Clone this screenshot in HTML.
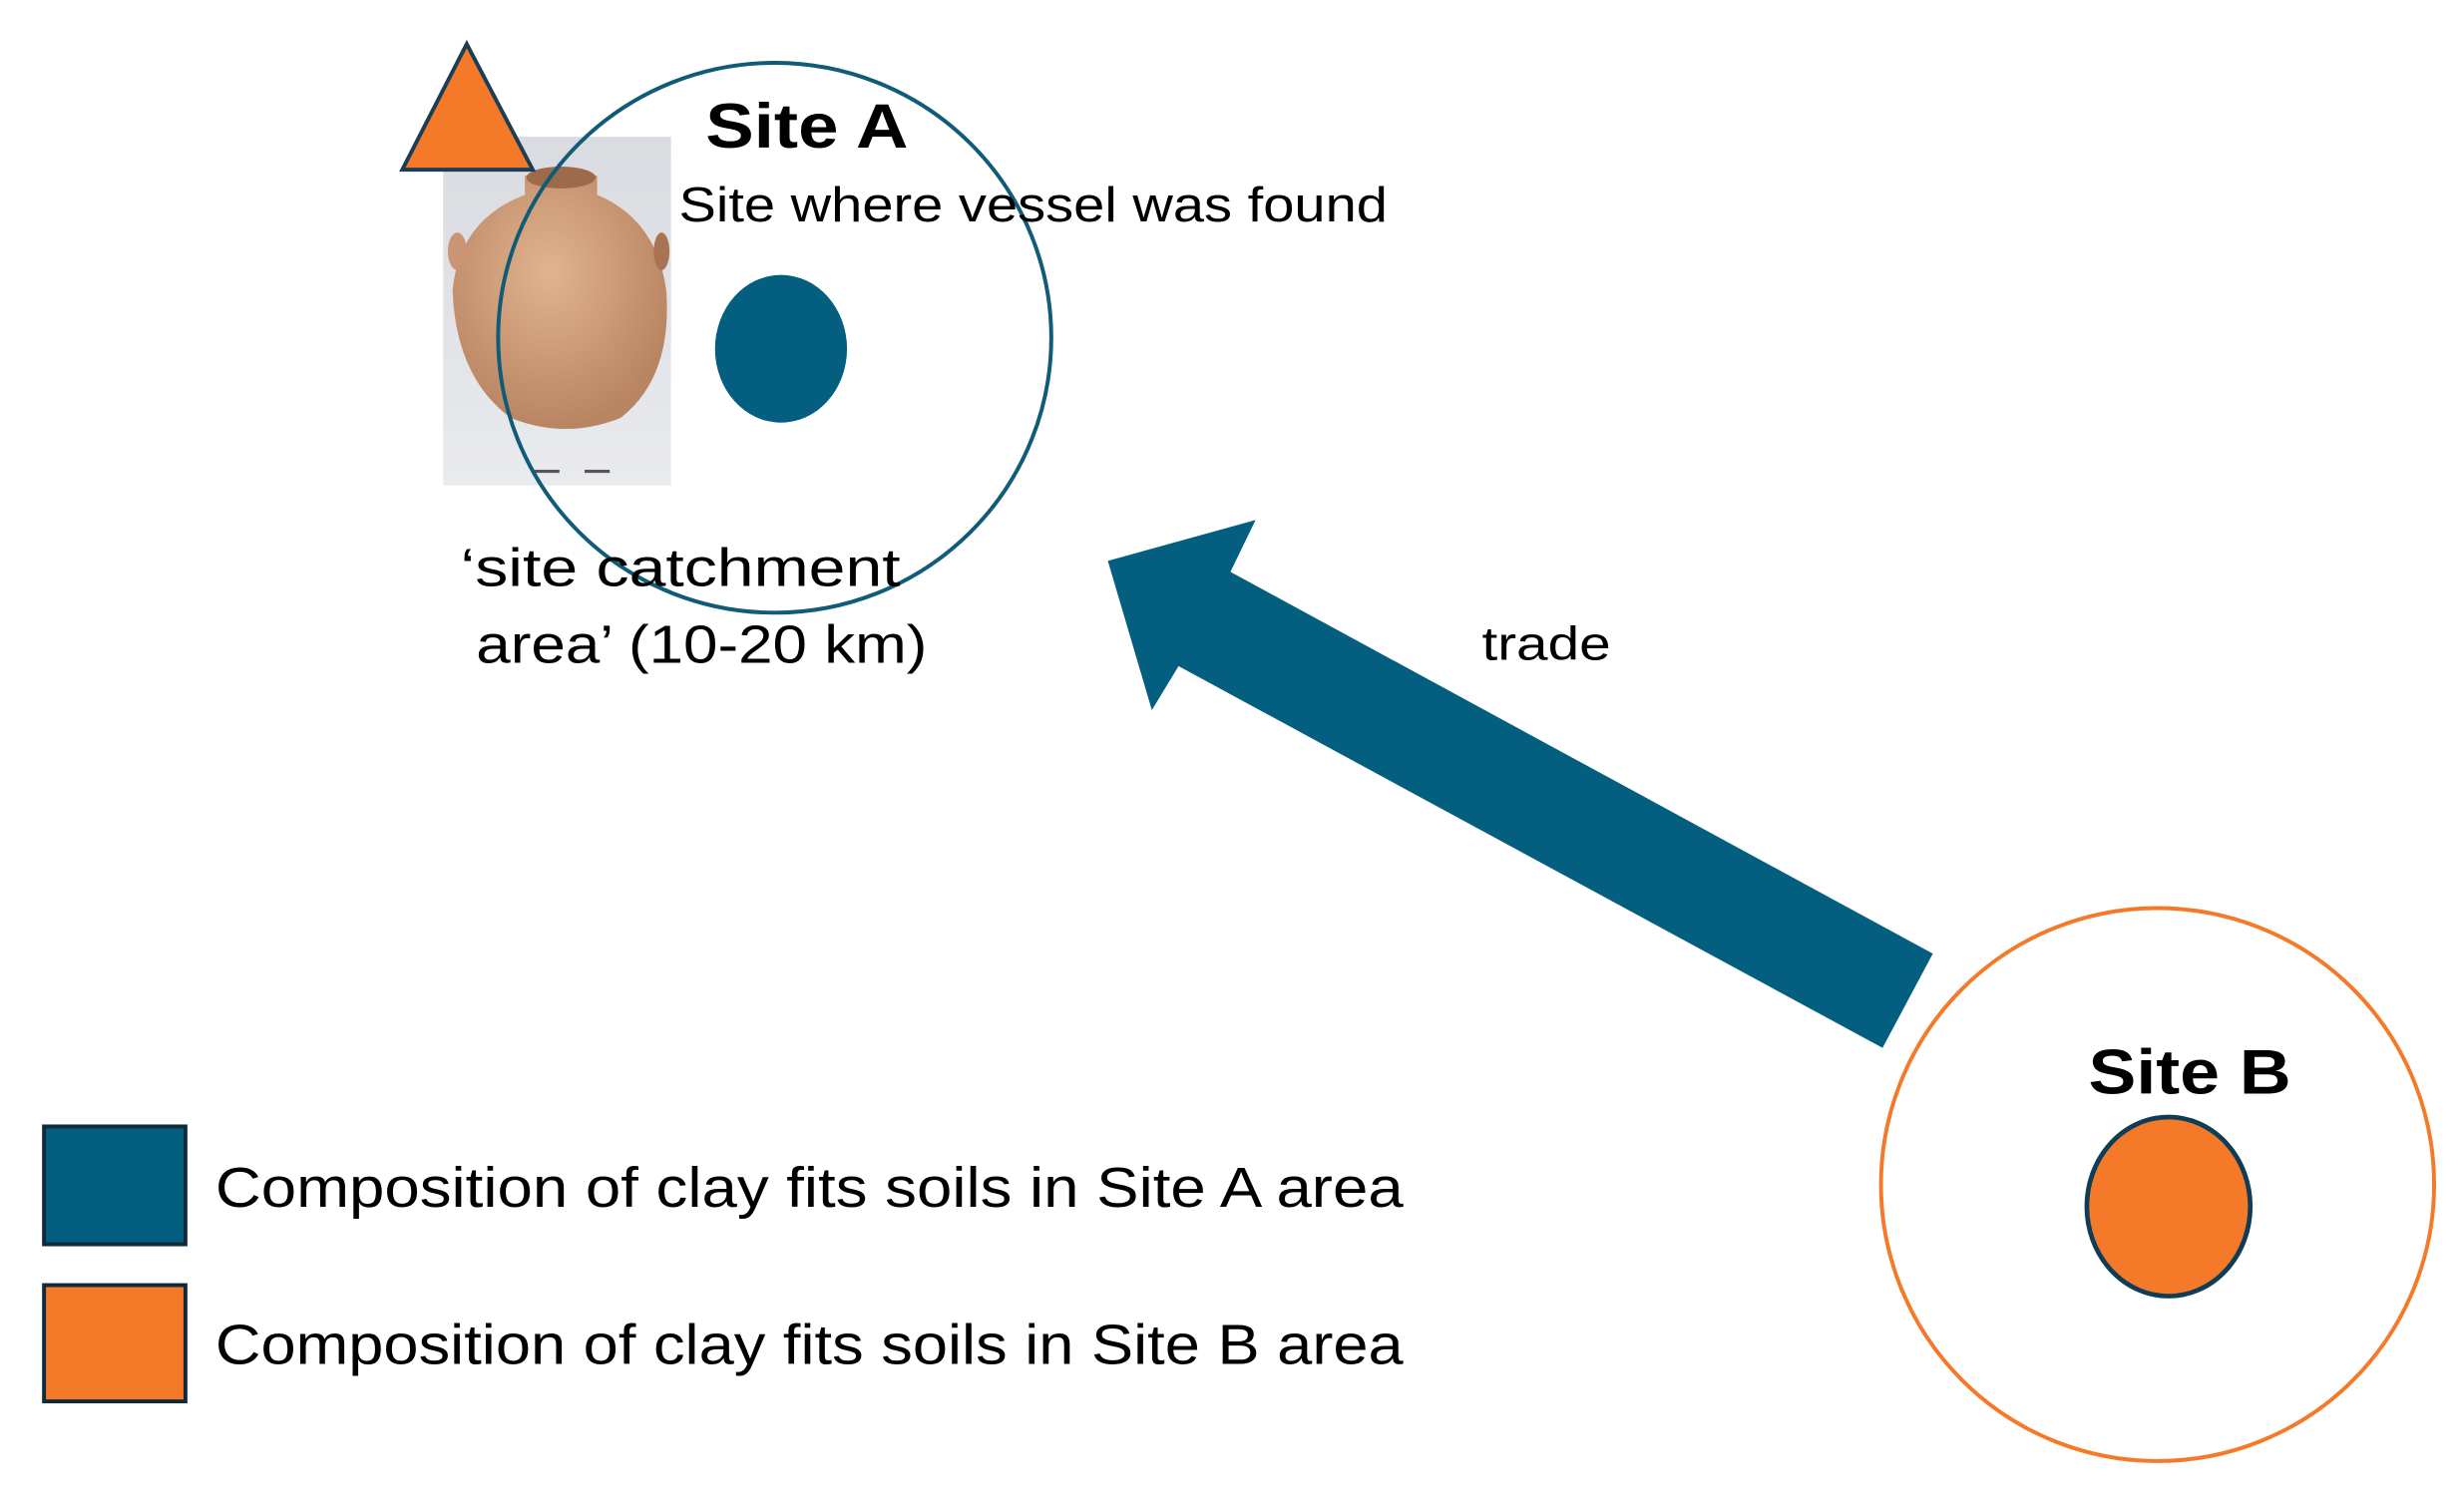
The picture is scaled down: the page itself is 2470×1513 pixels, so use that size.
<!DOCTYPE html>
<html><head><meta charset="utf-8"><style>
html,body{margin:0;padding:0;background:#fff;}
svg{display:block;}
text{font-family:"Liberation Sans",sans-serif;fill:#000;}
</style></head><body>
<svg width="2470" height="1513" viewBox="0 0 1568 960.5" xmlns="http://www.w3.org/2000/svg">
<rect width="1568" height="961" fill="#fff"/>
<defs>
<linearGradient id="bg" x1="0" y1="0" x2="0" y2="1"><stop offset="0" stop-color="#d9dbe0"/><stop offset="1" stop-color="#e9eaee"/></linearGradient>
<radialGradient id="jar" cx="0.45" cy="0.4" r="0.6"><stop offset="0" stop-color="#e2b48e"/><stop offset="1" stop-color="#b98462"/></radialGradient>
</defs>
<rect x="282" y="87" width="145" height="222" fill="url(#bg)"/>
<path d="M334,112 Q356,104 380,112 L380,124 Q418,140 424,185 Q428,240 395,266 Q360,280 325,266 Q290,240 288,185 Q292,140 334,124 Z" fill="url(#jar)"/>
<ellipse cx="357" cy="113" rx="22" ry="7" fill="#9e6a4c"/>
<ellipse cx="291" cy="160" rx="6" ry="12" fill="#c99572"/>
<ellipse cx="421" cy="160" rx="5" ry="12" fill="#a87454"/>
<line x1="340" y1="300" x2="356" y2="300" stroke="#555" stroke-width="2"/>
<line x1="372" y1="300" x2="388" y2="300" stroke="#555" stroke-width="2"/>
<polygon points="297,28 256,108 339,108" fill="#f47a2a" stroke="#1b3e55" stroke-width="2.5"/>
<ellipse cx="493" cy="215" rx="176" ry="175" fill="none" stroke="#0f5b78" stroke-width="2.5"/>
<ellipse cx="497" cy="222" rx="42" ry="47" fill="#035e80"/>
<text x="449" y="94" font-size="40" font-weight="bold" textLength="129" lengthAdjust="spacingAndGlyphs">Site A</text>
<text x="432" y="141" font-size="31" textLength="451" lengthAdjust="spacingAndGlyphs">Site where vessel was found</text>
<text x="293" y="373" font-size="34" textLength="280" lengthAdjust="spacingAndGlyphs">‘site catchment</text>
<text x="303" y="422" font-size="34" textLength="287" lengthAdjust="spacingAndGlyphs">area’ (10-20 km)</text>
<polygon points="705,357 799,331 783,364 1230,607 1198,667 750,424 733,452" fill="#035e80"/>
<text x="943" y="420" font-size="30" textLength="82" lengthAdjust="spacingAndGlyphs">trade</text>
<ellipse cx="1373" cy="754" rx="176" ry="176" fill="none" stroke="#f47a2a" stroke-width="2.5"/>
<ellipse cx="1380" cy="768" rx="52" ry="57" fill="#f47a2a" stroke="#0f3d55" stroke-width="3"/>
<text x="1329" y="696" font-size="40" font-weight="bold" textLength="129" lengthAdjust="spacingAndGlyphs">Site B</text>
<rect x="28" y="717" width="90" height="75" fill="#035e80" stroke="#0f2a3a" stroke-width="2.5"/>
<rect x="28" y="818" width="90" height="74" fill="#f47a2a" stroke="#0f2a3a" stroke-width="2.5"/>
<text x="137" y="768" font-size="36" textLength="756" lengthAdjust="spacingAndGlyphs">Composition of clay fits soils in Site A area</text>
<text x="137" y="868" font-size="36" textLength="756" lengthAdjust="spacingAndGlyphs">Composition of clay fits soils in Site B area</text>
</svg>
</body></html>
